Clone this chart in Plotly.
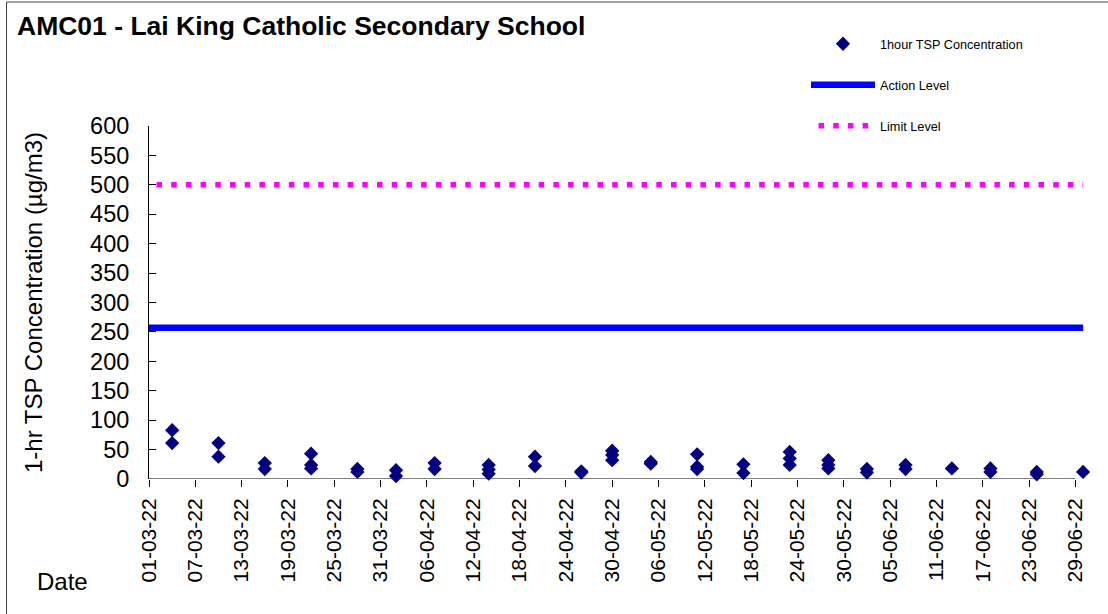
import plotly.graph_objects as go

# ---- data ----
sample_dates = [
    "2022-03-04", "2022-03-04",
    "2022-03-10", "2022-03-10",
    "2022-03-16", "2022-03-16",
    "2022-03-22", "2022-03-22", "2022-03-22",
    "2022-03-28", "2022-03-28",
    "2022-04-02", "2022-04-02",
    "2022-04-07", "2022-04-07",
    "2022-04-14", "2022-04-14", "2022-04-14",
    "2022-04-20", "2022-04-20",
    "2022-04-26", "2022-04-26",
    "2022-04-30", "2022-04-30", "2022-04-30",
    "2022-05-05", "2022-05-05",
    "2022-05-11", "2022-05-11", "2022-05-11",
    "2022-05-17", "2022-05-17",
    "2022-05-23", "2022-05-23", "2022-05-23",
    "2022-05-28", "2022-05-28", "2022-05-28",
    "2022-06-02", "2022-06-02",
    "2022-06-07", "2022-06-07",
    "2022-06-13",
    "2022-06-18", "2022-06-18",
    "2022-06-24", "2022-06-24",
    "2022-06-30",
]
tsp_values = [
    83, 61,
    61, 38,
    27, 17,
    43, 24, 18,
    17, 12,
    15, 5,
    27, 17,
    24, 16, 9,
    38, 22,
    13, 11,
    48, 41, 32,
    29, 26,
    42, 21, 17,
    25, 10,
    46, 35, 24,
    32, 24, 18,
    17, 11,
    24, 17,
    18,
    18, 12,
    12, 8,
    12,
]
level_dates = ["2022-03-01", "2022-06-30"]
action_level = [257, 257]
limit_level = [500, 500]

tick_dates = [
    "2022-03-01", "2022-03-07", "2022-03-13", "2022-03-19", "2022-03-25",
    "2022-03-31", "2022-04-06", "2022-04-12", "2022-04-18", "2022-04-24",
    "2022-04-30", "2022-05-06", "2022-05-12", "2022-05-18", "2022-05-24",
    "2022-05-30", "2022-06-05", "2022-06-11", "2022-06-17", "2022-06-23",
    "2022-06-29",
]
tick_labels = [
    "01-03-22", "07-03-22", "13-03-22", "19-03-22", "25-03-22",
    "31-03-22", "06-04-22", "12-04-22", "18-04-22", "24-04-22",
    "30-04-22", "06-05-22", "12-05-22", "18-05-22", "24-05-22",
    "30-05-22", "05-06-22", "11-06-22", "17-06-22", "23-06-22",
    "29-06-22",
]

FONT = "Liberation Sans, Arial, sans-serif"

fig = go.Figure()
fig.add_trace(go.Scatter(
    x=sample_dates, y=tsp_values, mode="markers",
    name="1hour TSP Concentration",
    marker=dict(symbol="diamond", size=11, color="#000080"),
    legend="legend", cliponaxis=False,
))
fig.add_trace(go.Scatter(
    x=level_dates, y=action_level, mode="lines", name="Action Level",
    line=dict(color="#0000FF", width=6.5),
    legend="legend2",
))
fig.add_trace(go.Scatter(
    x=level_dates, y=limit_level, mode="lines", name="Limit Level",
    line=dict(color="#FF00FF", width=5.5, dash="0px,7.5px,5.5px,1.7px"),
    legend="legend3",
))

L, R, T, B = 149, 23, 126, 135
W, H = 1108, 614
pw = W - L - R
ph = H - T - B

def px_x(p):
    return (p - L) / pw

def px_y(p):
    return (H - B - p) / ph

legend_common = dict(
    font=dict(family=FONT, size=12.7, color="black"),
    bgcolor="rgba(0,0,0,0)", borderwidth=0,
    xanchor="left", yanchor="middle", itemwidth=64,
)

fig.update_layout(
    width=W, height=H,
    margin=dict(l=L, r=R, t=T, b=B),
    paper_bgcolor="white", plot_bgcolor="white",
    font=dict(family=FONT, color="black"),
    title=dict(
        text="<b>AMC01 - Lai King Catholic Secondary School</b>",
        font=dict(family=FONT, size=26.5, color="black"),
        x=17 / W, xanchor="left", xref="container",
        y=1 - 26 / H, yanchor="middle", yref="container",
    ),
    showlegend=True,
    legend=dict(x=px_x(806), y=px_y(44), **legend_common),
    legend2=dict(x=px_x(806), y=px_y(85), **legend_common),
    legend3=dict(x=px_x(806), y=px_y(126), **legend_common),
    xaxis=dict(
        type="date",
        range=["2022-03-01", "2022-06-30 06:00"],
        tickvals=tick_dates, ticktext=tick_labels,
        tickangle=-90,
        ticks="outside", ticklen=7, tickcolor="black",
        tickfont=dict(family=FONT, size=21, color="black"),
        showline=False, showgrid=False, zeroline=False,
        ticklabelstandoff=3,
    ),
    yaxis=dict(
        range=[0, 600], dtick=50, tick0=0,
        ticks="inside", ticklen=7, tickcolor="black",
        tickfont=dict(family=FONT, size=23.5, color="black"),
        showline=True, linecolor="black", linewidth=1,
        showgrid=False, zeroline=False,
        ticklabelstandoff=14,
        title=dict(text="1-hr TSP Concentration (µg/m3)",
                   font=dict(family=FONT, size=24, color="black"),
                   standoff=40),
    ),
    annotations=[
        dict(text="Date", xref="paper", yref="paper",
             x=px_x(35), y=px_y(581), xanchor="left", yanchor="middle",
             showarrow=False, font=dict(family=FONT, size=24, color="black")),
    ],
    shapes=[
        # x axis line (ends at last tick)
        dict(type="line", xref="x", yref="y", x0=tick_dates[0], x1=tick_dates[-1],
             y0=0, y1=0, line=dict(color="black", width=1), layer="below"),
        # outer chart frame (left and top edges)
        dict(type="line", xref="paper", yref="paper", x0=px_x(6.5), x1=px_x(6.5),
             y0=px_y(2), y1=px_y(H + 5), line=dict(color="#444444", width=1)),
        dict(type="line", xref="paper", yref="paper", x0=px_x(6.5), x1=px_x(W + 5),
             y0=px_y(2), y1=px_y(2), line=dict(color="#444444", width=1)),
    ],
)

fig.write_html("out.html", config={"displayModeBar": False},
               post_script="document.body.style.margin='0';")
